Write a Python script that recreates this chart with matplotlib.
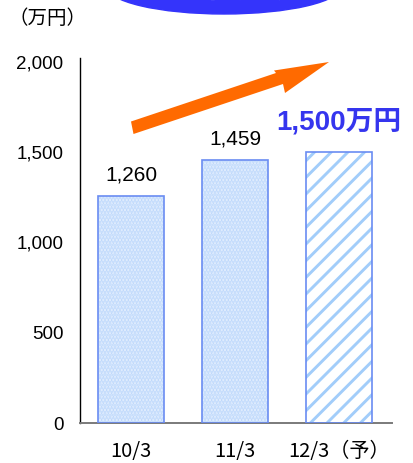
import matplotlib
matplotlib.use("Agg")
import matplotlib.pyplot as plt
from matplotlib.patches import Ellipse, Polygon

plt.rcParams['font.family'] = ['Liberation Sans', 'Noto Sans CJK JP', 'DejaVu Sans']
plt.rcParams['hatch.linewidth'] = 2.1

# order amounts (万円), last one is a forecast
periods = ['10/3', '11/3', '12/3（予）']
amounts = [1260, 1459, 1500]
value_labels = ['1,260', '1,459', '1,500万円']
yticks = [0, 500, 1000, 1500, 2000]
ytick_labels = ['0', '500', '1,000', '1,500', '2,000']

blue_edge = '#6a8cf2'
fig = plt.figure(figsize=(4.14, 4.63), dpi=100)
ax = fig.add_axes([80 / 414, 1 - 423 / 463, 312 / 414, 365 / 463])

x = list(range(len(periods)))
w = 0.635
# actual results: light dotted fill
ax.bar(x[:2], amounts[:2], width=w, color='#e6f0fe', edgecolor='#bfd9fc',
       hatch='.....', linewidth=0, zorder=2)
# forecast: diagonal stripes
ax.bar(x[2:], amounts[2:], width=w, color='white', edgecolor='#a2cdfa',
       hatch='//', linewidth=0, zorder=2)
ax.bar(x, amounts, width=w, fill=False, edgecolor=blue_edge, linewidth=1.2, zorder=3)

for xi, v, lab in zip(x[:2], amounts[:2], value_labels[:2]):
    ax.text(xi, v + 60, lab, ha='center', va='bottom', fontsize=15, color='black')
ax.text(x[2], amounts[2] + 95, value_labels[2], ha='center', va='bottom',
        fontsize=20, fontweight='bold', color='#3535ee',
        family=['Liberation Sans', 'Noto Sans CJK JP'])

ax.set_xlim(-0.49, 2.51)
ax.set_ylim(0, 2022)
ax.set_yticks(yticks)
ax.set_yticklabels(ytick_labels, fontsize=13.5)
ax.set_xticks(x)
ax.set_xticklabels(periods, fontsize=14.5, family=['Noto Sans CJK JP'])
ax.tick_params(axis='y', length=0, pad=12)
ax.tick_params(axis='x', length=0, pad=13)
for s in ['top', 'right']:
    ax.spines[s].set_visible(False)
ax.spines['left'].set_color('black')
ax.spines['left'].set_linewidth(1.0)
ax.spines['bottom'].set_color('#7a7a7a')
ax.spines['bottom'].set_linewidth(1.4)

# decorations in pixel coordinates
deco = fig.add_axes([0, 0, 1, 1], zorder=5)
deco.set_xlim(0, 414)
deco.set_ylim(463, 0)
deco.axis('off')
deco.add_patch(Ellipse((224, -14), 236, 56, color='#3434fb'))
deco.text(224, -11, '受注高推移', ha='center', va='center', fontsize=21,
          fontweight='bold', color='white', family=['Noto Sans CJK JP'])
arrow_outline = [(131, 121.5), (276, 73), (274, 70.5), (329, 62),
                 (285, 93), (283, 84), (133.5, 134)]
deco.add_patch(Polygon(arrow_outline, closed=True, color='#ff6a00', linewidth=0))

fig.text(8 / 414, 1 - 19 / 463, '（万円）', ha='left', va='center', fontsize=14,
         family=['Noto Sans CJK JP'])

fig.savefig('out.png', dpi=100)
